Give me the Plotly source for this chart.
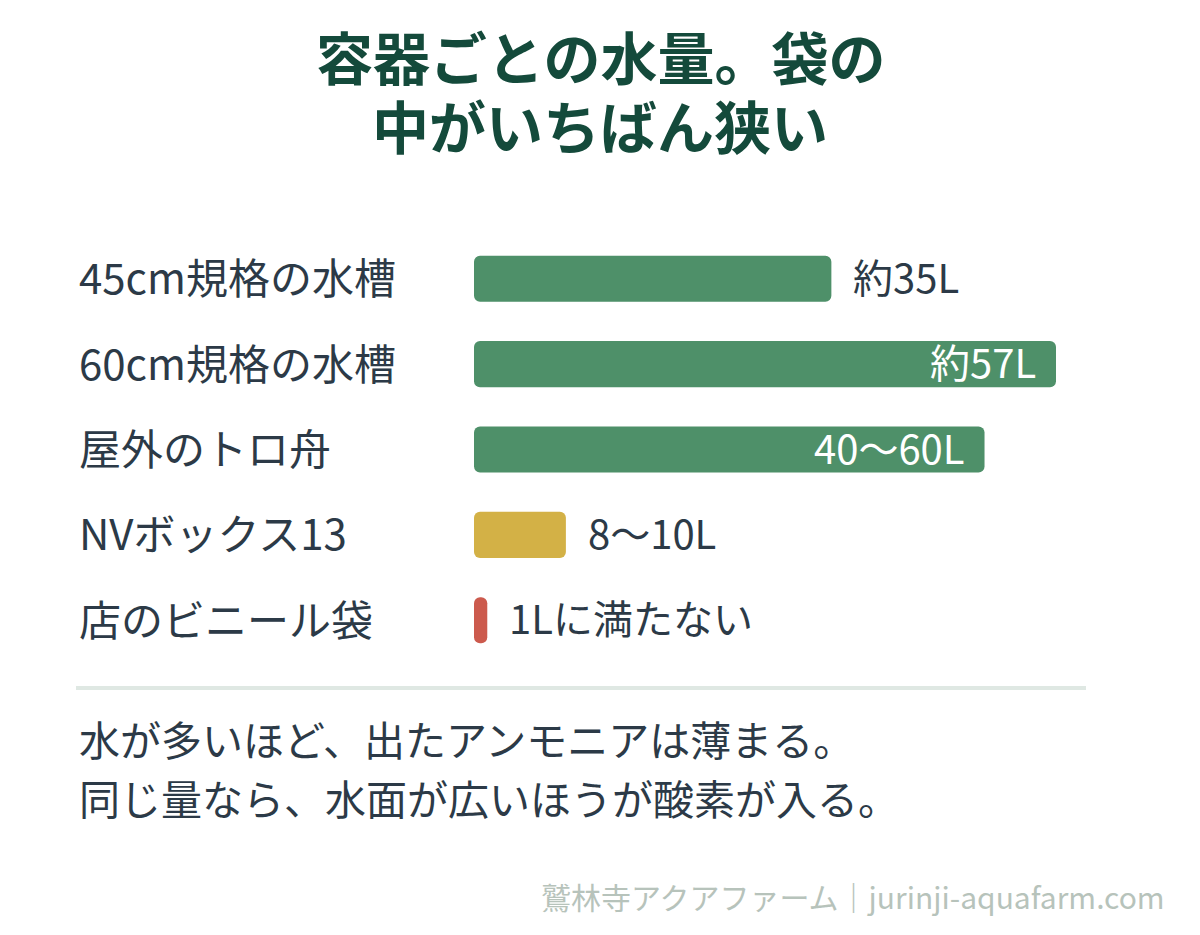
import plotly.graph_objects as go

# ---- data ----
categories = ["45cm規格の水槽", "60cm規格の水槽", "屋外のトロ舟", "NVボックス13", "店のビニール袋"]
volumes = [35, 57, 50, 9, 1.3]
value_labels = ["約35L", "約57L", "40〜60L", "8〜10L", "1Lに満たない"]
label_inside = [False, True, True, False, False]
bar_colors = ["#4e9069", "#4e9069", "#4e9069", "#d3b146", "#cc5a4d"]
title_lines = ["容器ごとの水量。袋の", "中がいちばん狭い"]
notes = ["水が多いほど、出たアンモニアは薄まる。", "同じ量なら、水面が広いほうが酸素が入る。"]
source = "鷲林寺アクアファーム｜jurinji-aquafarm.com"

# ---- layout geometry (pixels) ----
W, H = 1200, 935
L, R, T, B = 474, 60, 236, 272
PW, PH = W - L - R, H - T - B
XMAX = PW / (582 / 57)

def px(x):
    return (x - L) / PW

def py(y):
    return (H - B - y) / PH

FONT = "Noto Sans CJK JP, Noto Sans, sans-serif"
TEXT = "#2c3a47"
YS = 3  # small upward nudge for CJK font metrics

# an explicit base makes plotly round all four corners of each bar
fig = go.Figure(go.Bar(
    y=categories, x=volumes, base=[0] * len(volumes), orientation="h",
    marker=dict(color=bar_colors, line=dict(width=0), cornerradius=6.5), hoverinfo="skip",
))

ann = []
# title
for i, line in enumerate(title_lines):
    ann.append(dict(text=f"<b>{line}</b>", x=px(600), y=py(58 + 69 * i), xref="paper", yref="paper",
                    xanchor="center", yanchor="middle", showarrow=False, yshift=YS,
                    font=dict(family=FONT, size=57, color="#144a3b")))
# category labels
for c in categories:
    ann.append(dict(text=c, x=px(77), y=c, xref="paper", yref="y", xanchor="left", yanchor="middle",
                    showarrow=False, yshift=YS, font=dict(family=FONT, size=42, color=TEXT)))
# value labels
for c, v, t, inside in zip(categories, volumes, value_labels, label_inside):
    if inside:
        ann.append(dict(text=t, x=v, y=c, xref="x", yref="y", xanchor="right", yanchor="middle",
                        xshift=-18, yshift=YS, showarrow=False,
                        font=dict(family=FONT, size=40, color="white")))
    else:
        ann.append(dict(text=t, x=v, y=c, xref="x", yref="y", xanchor="left", yanchor="middle",
                        xshift=20, yshift=YS, showarrow=False,
                        font=dict(family=FONT, size=40, color=TEXT)))
# notes
for i, n in enumerate(notes):
    ann.append(dict(text=n, x=px(77), y=py(741 + 59 * i), xref="paper", yref="paper",
                    xanchor="left", yanchor="middle", showarrow=False, yshift=YS,
                    font=dict(family=FONT, size=41, color=TEXT)))
# source
ann.append(dict(text=source, x=px(1167), y=py(897), xref="paper", yref="paper",
                xanchor="right", yanchor="middle", showarrow=False, yshift=1,
                font=dict(family=FONT, size=30, color="#b7c3bb")))

fig.update_layout(
    width=W, height=H,
    margin=dict(l=L, r=R, t=T, b=B, pad=0),
    paper_bgcolor="white", plot_bgcolor="white",
    showlegend=False, bargap=0.46,
    xaxis=dict(range=[0, XMAX], visible=False, fixedrange=True),
    yaxis=dict(categoryorder="array", categoryarray=categories, range=[4.5, -0.5],
               visible=False, fixedrange=True),
    annotations=ann,
    shapes=[dict(type="line", xref="paper", yref="paper", x0=px(76), x1=px(1086),
                 y0=py(688), y1=py(688), line=dict(color="#dfe8e3", width=4))],
    hovermode=False,
)

fig.write_html("out.html", config={"displayModeBar": False},
               post_script="document.body.style.margin='0px';document.body.style.overflow='hidden';")
